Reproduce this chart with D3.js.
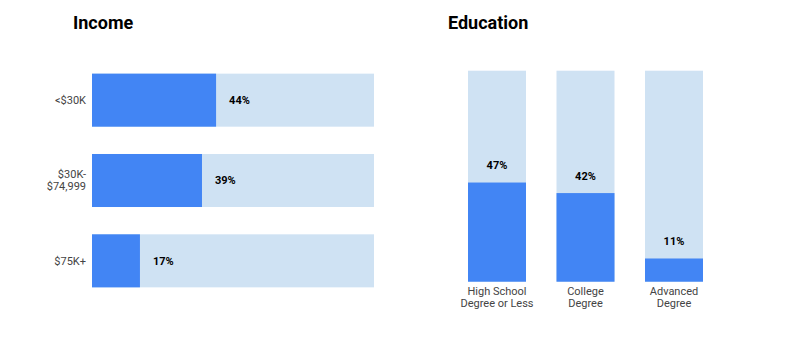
<!DOCTYPE html>
<html><head><meta charset="utf-8">
<script src="https://cdn.jsdelivr.net/npm/d3@7"></script>
<style>body{margin:0;background:#fff;font-family:Roboto,Arial,sans-serif;}</style>
</head><body>
<svg id="c" width="788" height="357"></svg>
<script>
const incomeCategories = [["<$30K"], ["$30K-", "$74,999"], ["$75K+"]];
const incomeValues = [44, 39, 17];
const eduCategories = [["High School", "Degree or Less"], ["College", "Degree"], ["Advanced", "Degree"]];
const eduValues = [47, 42, 11];
const titles = ["Income", "Education"];

const svg = d3.select("#c");
const BLUE = "#4285F4", LIGHT = "#CFE2F3";

// Income
svg.append("text").attr("x", 73).attr("y", 29).text(titles[0])
  .attr("font-size", 18).attr("font-weight", "bold").attr("fill", "#000");
const xI = d3.scaleLinear().domain([0, 100]).range([92, 374]);
const yI = d3.scaleBand().domain(d3.range(incomeValues.length)).range([60, 301]).paddingInner(0.34).paddingOuter(0.17);
const gI = svg.append("g");
incomeValues.forEach((v, i) => {
  const y = yI(i), h = yI.bandwidth();
  gI.append("rect").attr("x", xI(0)).attr("y", y).attr("width", xI(100) - xI(0)).attr("height", h).attr("fill", LIGHT);
  gI.append("rect").attr("x", xI(0)).attr("y", y).attr("width", xI(v) - xI(0)).attr("height", h).attr("fill", BLUE);
  gI.append("text").attr("x", xI(v) + 13).attr("y", y + h / 2).attr("dy", "0.35em")
    .attr("font-size", 11).attr("font-weight", "bold").attr("fill", "#000").text(v + "%");
  const lines = incomeCategories[i];
  const t = gI.append("text").attr("text-anchor", "end").attr("font-size", 11).attr("fill", "#444");
  lines.forEach((l, k) => {
    t.append("tspan").attr("x", 86).attr("y", y + h / 2 + (k - (lines.length - 1) / 2) * 12).attr("dy", "0.35em").text(l);
  });
});

// Education
svg.append("text").attr("x", 448).attr("y", 29).text(titles[1])
  .attr("font-size", 18).attr("font-weight", "bold").attr("fill", "#000");
const xE = d3.scaleBand().domain(d3.range(eduValues.length)).range([468, 703]).paddingInner(0.3446).paddingOuter(0);
const yE = d3.scaleLinear().domain([0, 100]).range([281.7, 70.7]);
const gE = svg.append("g");
eduValues.forEach((v, i) => {
  const x = xE(i), w = xE.bandwidth();
  gE.append("rect").attr("x", x).attr("y", yE(100)).attr("width", w).attr("height", yE(0) - yE(100)).attr("fill", LIGHT);
  gE.append("rect").attr("x", x).attr("y", yE(v)).attr("width", w).attr("height", yE(0) - yE(v)).attr("fill", BLUE);
  gE.append("text").attr("x", x + w / 2).attr("y", yE(v) - 17).attr("dy", "0.35em").attr("text-anchor", "middle")
    .attr("font-size", 11).attr("font-weight", "bold").attr("fill", "#000").text(v + "%");
  const t = gE.append("text").attr("text-anchor", "middle").attr("font-size", 11).attr("fill", "#444");
  eduCategories[i].forEach((l, k) => {
    t.append("tspan").attr("x", x + w / 2).attr("y", 291 + k * 12).attr("dy", "0.35em").text(l);
  });
});
</script>
</body></html>
